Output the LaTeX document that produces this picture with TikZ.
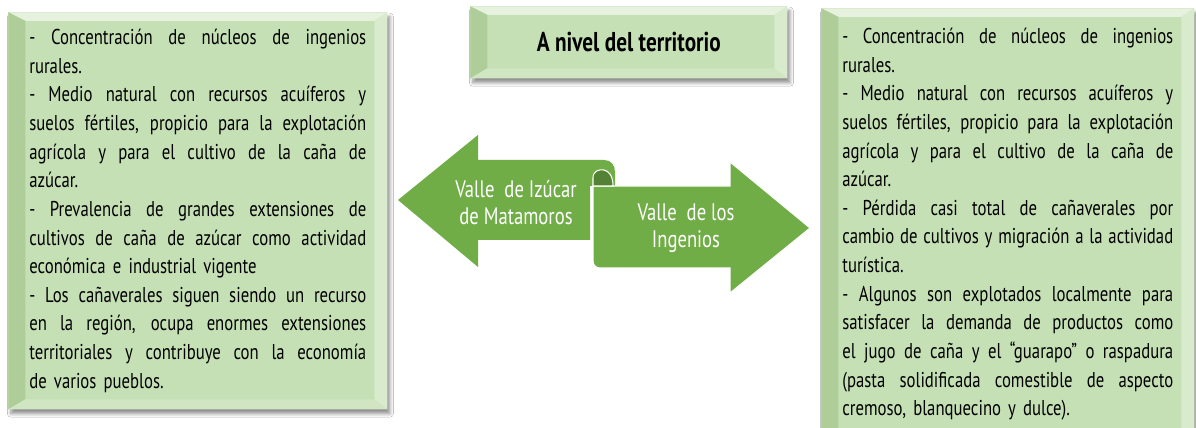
\documentclass[tikz,border=0pt]{standalone}
\usepackage{fontspec}
\setmainfont[FakeStretch=0.78]{PT Sans}
\usetikzlibrary{shadows.blur}

\definecolor{panelface}{HTML}{C5E0B4}
\definecolor{paneltop}{HTML}{E6F2DE}
\definecolor{panelleft}{HTML}{AECD99}
\definecolor{panelright}{HTML}{D8EBCC}
\definecolor{panelbottom}{HTML}{D0E6C2}
\definecolor{arrowgreen}{HTML}{70AD47}
\definecolor{curlgreen}{HTML}{548235}

% one justified line of a panel
\newcommand\jl[1]{\hbox to \hsize{\spaceskip=0.25em plus 1em minus 0.1em#1}\par}

\tikzset{
  panel/.style={fill=panelface, anchor=north west, inner ysep=0pt, inner xsep=0.42cm,
    blur shadow={shadow xshift=1.5pt, shadow yshift=-2.5pt, shadow blur steps=6, shadow opacity=45},
    path picture={
      \coordinate (nw) at (path picture bounding box.north west);
      \coordinate (ne) at (path picture bounding box.north east);
      \coordinate (se) at (path picture bounding box.south east);
      \coordinate (sw) at (path picture bounding box.south west);
      \fill[paneltop] (nw) -- (ne) -- ([shift={(-0.26cm,-0.17cm)}]ne) -- ([shift={(0.34cm,-0.17cm)}]nw) -- cycle;
      \fill[panelleft] (nw) -- ([shift={(0.34cm,-0.17cm)}]nw) -- ([shift={(0.34cm,0.2cm)}]sw) -- (sw) -- cycle;
      \fill[panelright] (ne) -- ([shift={(-0.26cm,-0.17cm)}]ne) -- ([shift={(-0.26cm,0.2cm)}]se) -- (se) -- cycle;
      \fill[panelbottom] (sw) -- ([shift={(0.34cm,0.2cm)}]sw) -- ([shift={(-0.26cm,0.2cm)}]se) -- (se) -- cycle;
    }},
  paneltext/.style={font=\fontsize{12.2}{16.3}\selectfont},
  arrowtext/.style={text=white, align=center, font=\fontsize{13.6}{15.4}\selectfont},
}

\begin{document}
\begin{tikzpicture}[x=0.02cm,y=-0.02cm]
  \useasboundingbox (0,0) rectangle (1196,428);
  \fill[white] (0,0) rectangle (1196,428);

  \node[panel, paneltext, text width=6.74cm, minimum height=7.94cm] (izucarbox) at (8,12) {%
    \jl{- Concentración de núcleos de ingenios}
    rurales.\par
    \jl{- Medio natural con recursos acuíferos y}
    \jl{suelos fértiles, propicio para la explotación}
    \jl{agrícola y para el cultivo de la caña de}
    azúcar.\par
    \jl{- Prevalencia de grandes extensiones de}
    \jl{cultivos de caña de azúcar como actividad}
    económica e industrial vigente\par
    \jl{- Los cañaverales siguen siendo un recurso}
    \jl{en la región, ocupa enormes extensiones}
    \jl{territoriales y contribuye con la economía}
    de varios pueblos.};

  \node[panel, paneltext, text width=6.62cm, minimum height=8.64cm] (ingeniosbox) at (821,8) {%
    \jl{- Concentración de núcleos de ingenios}
    rurales.\par
    \jl{- Medio natural con recursos acuíferos y}
    \jl{suelos fértiles, propicio para la explotación}
    \jl{agrícola y para el cultivo de la caña de}
    azúcar.\par
    \jl{- Pérdida casi total de cañaverales por}
    \jl{cambio de cultivos y migración a la actividad}
    turística.\par
    \jl{- Algunos son explotados localmente para}
    \jl{satisfacer la demanda de productos como}
    \jl{el jugo de caña y el “guarapo” o raspadura}
    \jl{(pasta solidificada comestible de aspecto}
    cremoso, blanquecino y dulce).};

  \node[panel, minimum width=6.34cm, minimum height=1.44cm, inner xsep=0pt,
        font=\fontsize{15.5}{18}\selectfont\bfseries] (title) at (470,6) {A nivel del territorio};

  % scroll arrows
  \fill[arrowgreen] (398,200) -- (478,135) -- (478,160) -- (604,160)
    .. controls (611,160) and (615,165) .. (615,172) -- (615,186) -- (590,186)
    -- (590,240) -- (478,240) -- (478,267) -- cycle;
  \filldraw[arrowgreen, draw=white, line width=0.6pt] (593,186) -- (730,186) -- (730,162)
    -- (810,228) -- (730,293) -- (730,268) -- (600,268)
    .. controls (596,268) and (593,265) .. (593,261) -- cycle;
  \filldraw[curlgreen, draw=white, line width=0.6pt] (593,186) -- (593,178)
    .. controls (593,171) and (599,169) .. (604,170)
    .. controls (609,171) and (613,176) .. (613,186) -- cycle;

  \node[arrowtext] (izucar) at (516,203) {Valle~ de Izúcar\\de Matamoros};
  \node[arrowtext] (ingenios) at (686,228) {Valle~ de los\\Ingenios};
\end{tikzpicture}
\end{document}
